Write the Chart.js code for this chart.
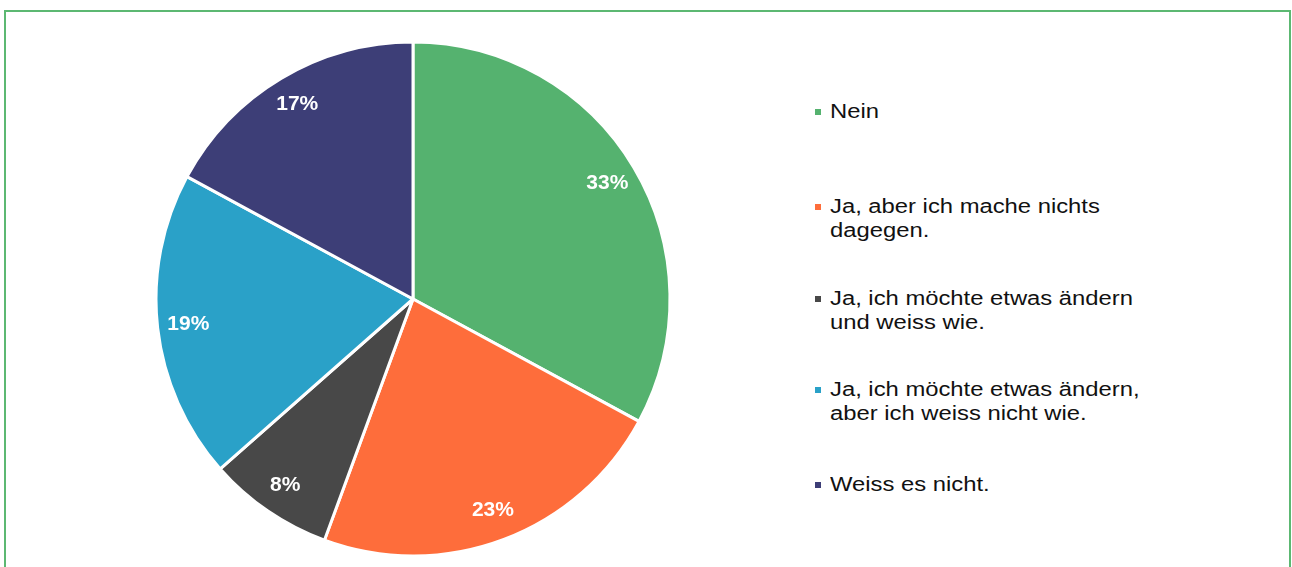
<!DOCTYPE html>
<html>
<head>
<meta charset="utf-8">
<script src="https://cdn.jsdelivr.net/npm/chart.js@4"></script>
<style>
  html, body { margin: 0; padding: 0; background: #fff; }
  body { width: 1292px; height: 567px; position: relative; overflow: hidden; }
  #frame {
    position: absolute; left: 4px; top: 10px; width: 1283px; height: 600px;
    border: 2px solid #5cb872;
  }
  #chartBox { position: absolute; left: 153px; top: 39px; width: 520px; height: 520px; }
  #legend {
    position: absolute; left: 815px; top: 99px;
    font-family: "Liberation Sans", Arial, sans-serif; font-size: 20px; color: #111;
    line-height: 24px;
  }
  .item { position: absolute; left: 0; white-space: nowrap; }
  .box { position: absolute; left: 0; top: 10px; width: 6px; height: 6px; }
  .txt { position: absolute; left: 15px; top: 0; transform: scaleX(1.19); transform-origin: 0 0; }
</style>
</head>
<body>
<div id="frame"></div>
<div id="chartBox"><canvas id="pie"></canvas></div>
<div id="legend"></div>
<script>
const categories = [
    ['Nein'],
    ['Ja, aber ich mache nichts', 'dagegen.'],
    ['Ja, ich möchte etwas ändern', 'und weiss wie.'],
    ['Ja, ich möchte etwas ändern,', 'aber ich weiss nicht wie.'],
    ['Weiss es nicht.']
];
// slice sizes (labels show them rounded)
const shares = [32.9, 22.7, 7.9, 19.4, 17.1];
const colors = ['#55b26f', '#fe6d3b', '#484848', '#2aa1c8', '#3d3e77'];
const legendTops = [0, 95, 187, 278, 373];

// legend as html, built from the same arrays
const legend = document.getElementById('legend');
categories.forEach(function (lines, i) {
    const item = document.createElement('div');
    item.className = 'item';
    item.style.top = legendTops[i] + 'px';
    const box = document.createElement('div');
    box.className = 'box';
    box.style.background = colors[i];
    const txt = document.createElement('div');
    txt.className = 'txt';
    txt.innerHTML = lines.join('<br>');
    item.appendChild(box);
    item.appendChild(txt);
    legend.appendChild(item);
});

const pctLabels = {
    id: 'pctLabels',
    afterDatasetsDraw(chart) {
        const ctx = chart.ctx;
        const meta = chart.getDatasetMeta(0);
        ctx.save();
        ctx.fillStyle = '#fff';
        ctx.font = 'bold 21px "Liberation Sans", Arial, sans-serif';
        ctx.textAlign = 'center';
        ctx.textBaseline = 'middle';
        meta.data.forEach(function (arc, i) {
            const p = arc.getProps(['x', 'y', 'startAngle', 'endAngle', 'outerRadius'], true);
            const mid = (p.startAngle + p.endAngle) / 2;
            const r = p.outerRadius * 0.88;
            ctx.fillText(Math.round(shares[i]) + '%', p.x + Math.cos(mid) * r, p.y + Math.sin(mid) * r);
        });
        ctx.restore();
    }
};

new Chart(document.getElementById('pie'), {
    type: 'pie',
    data: {
        labels: categories,
        datasets: [{
            data: shares,
            backgroundColor: colors,
            borderColor: '#fff',
            borderWidth: 3
        }]
    },
    options: {
        responsive: true,
        maintainAspectRatio: false,
        animation: false,
        radius: 257,
        layout: { padding: 0 },
        plugins: {
            legend: { display: false },
            tooltip: { enabled: false }
        }
    },
    plugins: [pctLabels]
});
</script>
</body>
</html>
